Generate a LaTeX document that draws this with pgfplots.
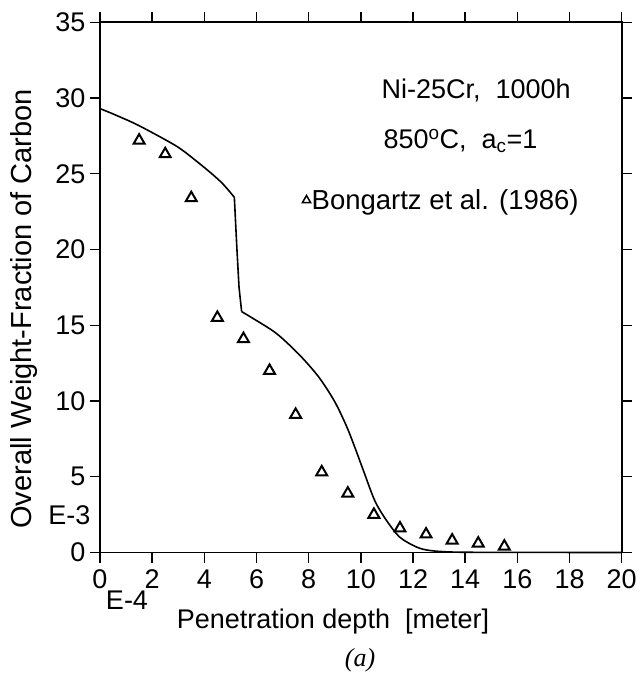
\documentclass[border=0pt]{standalone}
\usepackage{fontspec}
\setmainfont{Liberation Sans}
\newfontfamily\serifit{Liberation Serif}
\usepackage{pgfplots}
\pgfplotsset{compat=1.18}
\begin{document}
\begin{tikzpicture}[x=1pt,y=1pt]
\begin{axis}[
  at={(0,0)}, anchor=south west,
  scale only axis, width=521.7pt, height=530.2pt,
  xmin=0, xmax=20, ymin=0, ymax=35,
  xtick={0,2,...,20}, ytick={0,5,...,35},
  tick align=outside, major tick length=10pt,
  axis line style={line width=1.6pt},
  every tick/.style={line width=1.4pt, black},
  /pgf/number format/assume math mode=true,
  tick label style={font=\fontsize{27}{31}\selectfont},
  xticklabel style={yshift=-4pt},
  yticklabel style={xshift=-1pt},
  legend style={draw=none, fill=none, at={(axis cs:7.75,23.25)}, anchor=west,
    font=\fontsize{27.5}{31}\selectfont, inner sep=0pt,
    nodes={inner sep=1pt}},
  legend image code/.code={\draw[#1, mark size=4.8pt, line width=1.5pt] plot coordinates {(0.17cm,0cm)};},
  clip=false,
]
\addplot[black, line width=1.6pt, smooth, tension=0.4, forget plot] coordinates {
 (0,29.3) (0.5,28.95) (1.47,28.2) (3.0,26.75) (4.15,25.2) (4.7,24.35) (5.15,23.45)
};
\addplot[black, line width=1.6pt, forget plot] coordinates {
 (5.15,23.45) (5.25,20.0) (5.33,17.5) (5.43,15.9)
};
\addplot[black, line width=1.6pt, smooth, tension=0.5, forget plot] coordinates {
 (5.43,15.9) (5.82,15.5) (6.77,14.45) (7.67,13.0) (8.4,11.55) (9.0,9.95)
 (9.46,8.3) (9.8,6.8) (10.1,5.4) (10.54,3.4) (10.99,2.1) (11.5,1.0) (12.15,0.35)
 (12.66,0.13) (13.5,0.03) (15,0.01) (20,0)
};
\addplot[black, only marks, mark=triangle, mark size=6.3pt, line width=2pt] coordinates {
 (1.5,27.2) (2.5,26.3) (3.5,23.4) (4.5,15.5) (5.5,14.1) (6.5,12.0) (7.5,9.1)
 (8.5,5.3) (9.5,3.9) (10.5,2.5) (11.5,1.6) (12.5,1.2) (13.5,0.8) (14.5,0.6) (15.5,0.4)
};
\addlegendentry{Bongartz et al. (1986)}
\end{axis}
\path[use as bounding box] (-100,-126.5) rectangle (537,552.5);
\node[font=\fontsize{29}{33}\selectfont, rotate=90] at (-76,243.5) {Overall Weight-Fraction of Carbon};
\node[font=\fontsize{27}{31}\selectfont, anchor=east] at (-6,37.5) {E-3};
\node[font=\fontsize{27}{31}\selectfont] at (27,-47.5) {E-4};
\node[font=\fontsize{27}{31}\selectfont] at (233,-69.5) {Penetration depth\ \ [meter]};
\node[font=\serifit\itshape\fontsize{26}{30}\selectfont] at (260,-107.5) {(a)};
\node[font=\fontsize{27}{31}\selectfont, anchor=west] at (278,462.5) {Ni-25Cr,\ \ 1000h};
\node[font=\fontsize{27}{31}\selectfont, anchor=west] at (280,411.5) {850\textsuperscript{o}C,\ \ a\textsubscript{c}=1};
\end{tikzpicture}
\end{document}
